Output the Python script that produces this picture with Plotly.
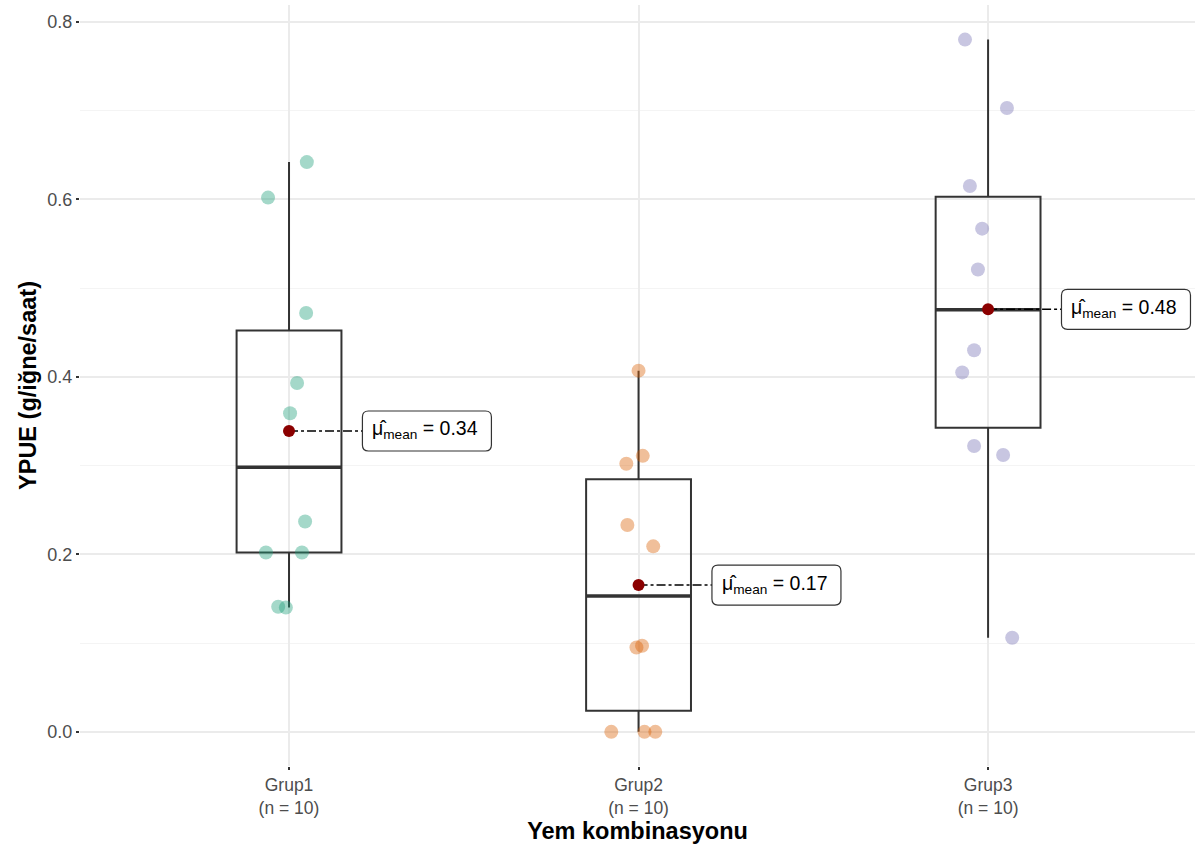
import numpy as np
import plotly.graph_objects as go

# ---- data ----
groups = ["Grup1", "Grup2", "Grup3"]
grup1 = [0.642, 0.602, 0.472, 0.393, 0.359, 0.237, 0.202, 0.202, 0.141, 0.140]
grup2 = [0.407, 0.311, 0.302, 0.233, 0.209, 0.095, 0.097, 0.0, 0.0, 0.0]
grup3 = [0.780, 0.703, 0.615, 0.567, 0.521, 0.430, 0.405, 0.322, 0.312, 0.106]
# horizontal jitter of each point (in category units)
grup1_jitter = [0.051, -0.060, 0.049, 0.023, 0.003, 0.046, -0.066, 0.037, -0.031, -0.009]
grup2_jitter = [0.0, 0.012, -0.035, -0.032, 0.042, -0.006, 0.010, -0.078, 0.017, 0.048]
grup3_jitter = [-0.066, 0.054, -0.052, -0.017, -0.029, -0.040, -0.074, -0.040, 0.043, 0.069]
y_ticks = [0.0, 0.2, 0.4, 0.6, 0.8]

values = [grup1, grup2, grup3]
jitters = [grup1_jitter, grup2_jitter, grup3_jitter]
point_colors = ["rgba(27,158,119,0.40)", "rgba(217,95,2,0.40)", "rgba(117,112,179,0.40)"]

FONT = "Liberation Sans, Arial, sans-serif"
LABEL_OFFSET = 0.21   # gap between the mean point and its label (category units)
LABEL_W, LABEL_H, R = 129, 40, 6  # label box size in pixels

fig = go.Figure()

for i, (vals, jit) in enumerate(zip(values, jitters)):
    fig.add_trace(go.Scatter(
        x=[i + j for j in jit], y=vals, mode="markers",
        marker=dict(size=14, color=point_colors[i], line=dict(width=0)),
        showlegend=False, hoverinfo="y"))

for i, vals in enumerate(values):
    a = np.asarray(vals)
    q1, med, q3 = np.percentile(a, [25, 50, 75])
    iqr = q3 - q1
    lo = a[a >= q1 - 1.5 * iqr].min()
    hi = a[a <= q3 + 1.5 * iqr].max()
    fig.add_trace(go.Box(
        x=[i], q1=[q1], median=[med], q3=[q3], lowerfence=[lo], upperfence=[hi],
        width=0.3, boxpoints=False, whiskerwidth=0,
        fillcolor="rgba(0,0,0,0)", line=dict(color="#333333", width=2),
        showlegend=False, hoverinfo="skip"))
    fig.add_trace(go.Scatter(
        x=[i - 0.15, i + 0.15], y=[med, med], mode="lines",
        line=dict(color="#333333", width=3.5), showlegend=False, hoverinfo="skip"))

def rounded_path(w, h, r):
    h2 = h / 2
    return (f"M {r},{-h2} L {w - r},{-h2} Q {w},{-h2} {w},{-h2 + r} "
            f"L {w},{h2 - r} Q {w},{h2} {w - r},{h2} L {r},{h2} Q 0,{h2} 0,{h2 - r} "
            f"L 0,{-h2 + r} Q 0,{-h2} {r},{-h2} Z")

for i, vals in enumerate(values):
    m = float(np.mean(vals))
    fig.add_trace(go.Scatter(
        x=[i, i + LABEL_OFFSET], y=[m, m], mode="lines",
        line=dict(color="black", width=1.6, dash="dashdot"),
        showlegend=False, hoverinfo="skip"))
    fig.add_trace(go.Scatter(
        x=[i], y=[m], mode="markers",
        marker=dict(size=12, color="#8B0000"), showlegend=False))
    fig.add_shape(
        type="path", xref="x", yref="y", xsizemode="pixel", ysizemode="pixel",
        xanchor=i + LABEL_OFFSET, yanchor=m, path=rounded_path(LABEL_W, LABEL_H, R),
        fillcolor="white", line=dict(color="#333333", width=1.2), layer="above")
    fig.add_annotation(
        x=i + LABEL_OFFSET, y=m, xanchor="left", yanchor="middle", showarrow=False,
        xshift=10, yshift=1,
        text=f"μ̂<sub>mean</sub> = {m:.2f}",
        font=dict(family=FONT, size=19.5, color="black"),
        borderwidth=0, borderpad=0)

fig.update_layout(
    width=1195, height=850,
    margin=dict(l=80, r=0, t=5, b=84),
    plot_bgcolor="white", paper_bgcolor="white",
    font=dict(family=FONT),
    xaxis=dict(
        range=[-0.598, 2.592], tickmode="array", tickvals=[0, 1, 2],
        ticktext=[f"{g}<br>(n = {len(v)})" for g, v in zip(groups, values)],
        tickfont=dict(size=17.5, color="#4D4D4D"),
        showgrid=True, gridcolor="#EBEBEB", gridwidth=1.5, zeroline=False,
        ticks="outside", ticklen=3, tickwidth=1.5, tickcolor="#333333",
        showline=False,
        title=dict(text="<b>Yem kombinasyonu</b>", font=dict(size=23.5, color="black"), standoff=0)),
    yaxis=dict(
        range=[-0.0385, 0.819], tickmode="array", tickvals=y_ticks,
        ticktext=[f"{t:.1f}" for t in y_ticks],
        tickfont=dict(size=18, color="#4D4D4D"),
        showgrid=True, gridcolor="#EBEBEB", gridwidth=1.5, zeroline=False,
        ticks="outside", ticklen=3, tickwidth=1.5, tickcolor="#333333",
        minor=dict(tickvals=[0.1, 0.3, 0.5, 0.7], showgrid=True, gridcolor="#F4F4F4", gridwidth=1, ticks=""),
        title=dict(text="<b>YPUE (g/iğne/saat)</b>", font=dict(size=23.5, color="black"), standoff=4)),
)

fig.write_html("out.html")
